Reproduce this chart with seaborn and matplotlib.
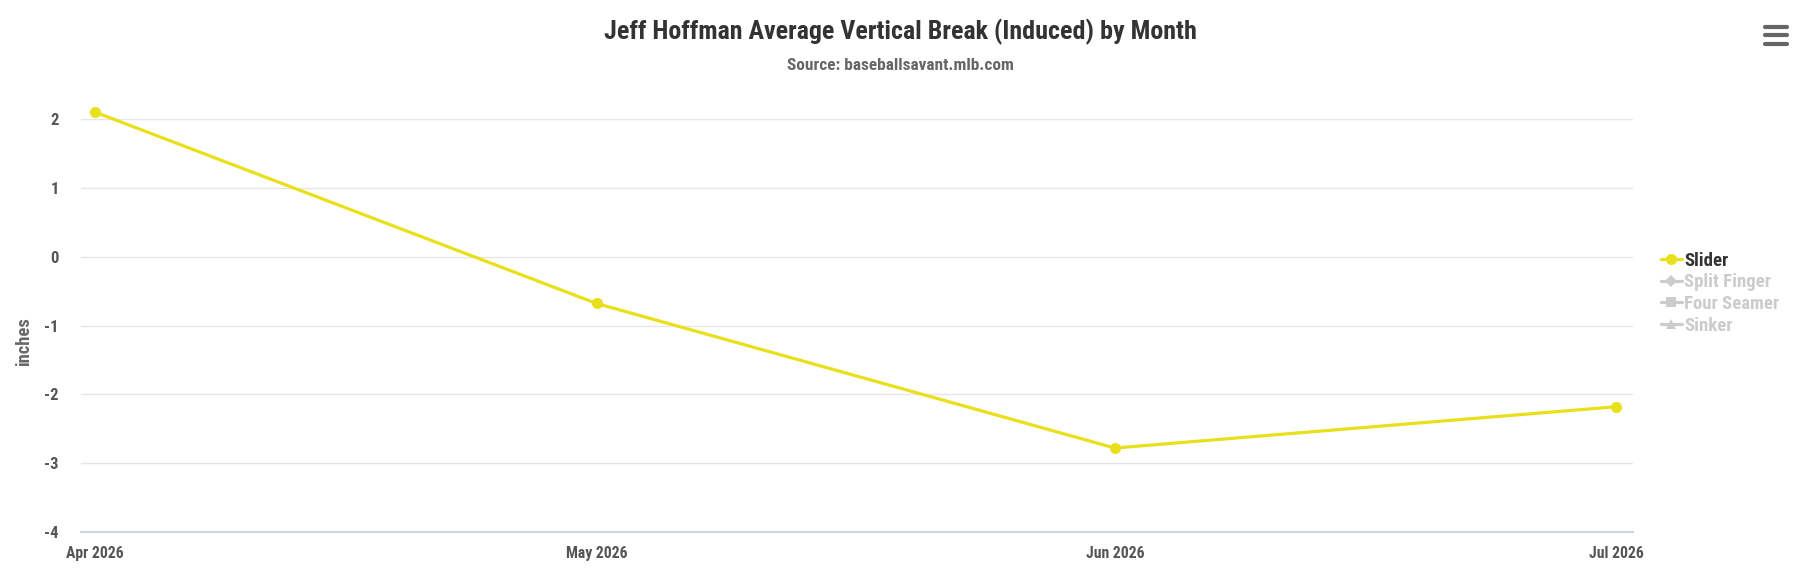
import matplotlib
matplotlib.use("Agg")
import matplotlib.pyplot as plt
from matplotlib import font_manager
from matplotlib.lines import Line2D
import seaborn as sns
import pandas as pd
import numpy as np

months = ["2026-04-01", "2026-05-01", "2026-06-01", "2026-07-01"]
month_labels = ["Apr 2026", "May 2026", "Jun 2026", "Jul 2026"]
slider_values = [2.10, -0.68, -2.78, -2.18]
legend_names = ["Slider", "Split Finger", "Four Seamer", "Sinker"]
legend_markers = ["o", "D", "s", "^"]
y_ticks = [2, 1, 0, -1, -2, -3, -4]

sns.set_theme(style="white")
avail = {f.name for f in font_manager.fontManager.ttflist}
fam = None
for cand in ["Roboto Condensed", "Liberation Sans Narrow", "Roboto", "DejaVu Sans"]:
    if cand in avail:
        fam = cand
        break
plt.rcParams["font.family"] = [fam, "DejaVu Sans"]

df = pd.DataFrame({"month": pd.to_datetime(months), "value": slider_values})

fig = plt.figure(figsize=(18, 5.72), dpi=100)
W, H = 1800, 572
ax = fig.add_axes([81 / W, (H - 532) / H, (1633 - 81) / W, (532 - 119) / H])

line_color = "#e8e01a"
sns.lineplot(data=df, x="month", y="value", ax=ax, color=line_color, lw=2.3,
             marker="o", markersize=8, markeredgewidth=0, clip_on=False, zorder=5)

ax.set_ylim(-4, 2)
ax.set_xlim(df["month"].iloc[0] - pd.Timedelta(days=0.84),
            df["month"].iloc[-1] + pd.Timedelta(days=1.0))
ax.set_yticks(y_ticks)
ax.set_yticklabels([str(t) for t in y_ticks])
ax.set_xticks(df["month"])
ax.set_xticklabels(month_labels)

for t in y_ticks:
    if t != -4:
        ax.axhline(t, color="#e6e6e6", lw=1, zorder=0)

for s in ["top", "right", "left"]:
    ax.spines[s].set_visible(False)
ax.spines["bottom"].set_color("#ccd6eb")
ax.spines["bottom"].set_linewidth(1.5)

ax.tick_params(axis="x", length=7, width=1, color="#ccd6eb", pad=3,
               labelsize=11.3, labelcolor="#555555")
ax.tick_params(axis="y", length=0, pad=16, labelsize=12, labelcolor="#555555")
for lab in ax.get_xticklabels() + ax.get_yticklabels():
    lab.set_fontweight("bold")

ax.set_xlabel("")
ax.set_ylabel("inches", fontsize=13.4, color="#666666", fontweight="bold")
ax.yaxis.set_label_coords(-(81 - 24) / (1633 - 81), 0.46)
ax.yaxis.label.set_va("center")

fig.text(0.5, 1 - 32 / H, "Jeff Hoffman Average Vertical Break (Induced) by Month",
         ha="center", va="center", fontsize=18.7, fontweight="bold", color="#333333")
fig.text(0.5, 1 - 66 / H, "Source: baseballsavant.mlb.com",
         ha="center", va="center", fontsize=12.4, fontweight="bold", color="#666666")

handles = []
for i, (n, m) in enumerate(zip(legend_names, legend_markers)):
    c = line_color if i == 0 else "#cccccc"
    handles.append(Line2D([0], [0], color=c, lw=2.3, marker=m,
                          markersize=8 if i == 0 else 6.5, markeredgewidth=0))
leg = fig.legend(handles=handles, labels=legend_names, loc="upper left",
                 bbox_to_anchor=(1661 / W, 1 - 251.5 / H), frameon=False,
                 fontsize=13.5, handlelength=1.1, handletextpad=0.15,
                 labelspacing=0.2, borderaxespad=0, borderpad=0)
for i, txt in enumerate(leg.get_texts()):
    txt.set_fontweight("bold")
    txt.set_color("#333333" if i == 0 else "#cccccc")

for yy in [27, 35, 44]:
    fig.add_artist(Line2D([1765 / W, 1787 / W], [1 - yy / H, 1 - yy / H],
                          color="#666666", lw=3, solid_capstyle="round"))

fig.savefig("out.png", dpi=100, facecolor="white")
